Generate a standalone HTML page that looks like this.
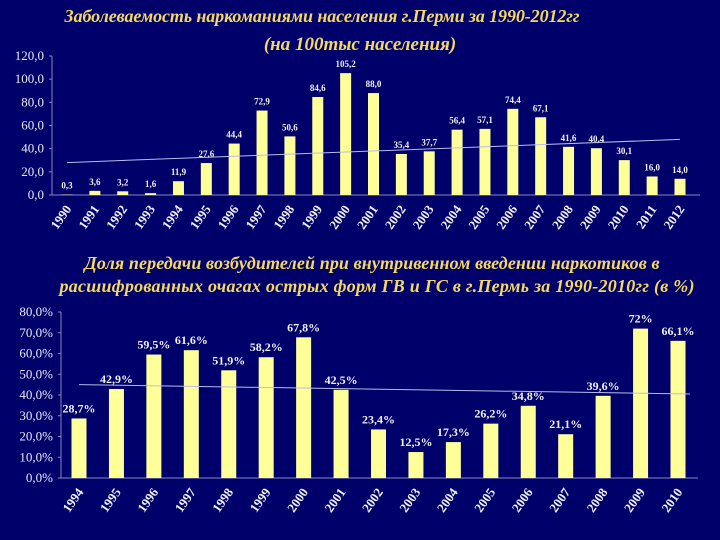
<!DOCTYPE html>
<html><head><meta charset="utf-8"><style>
body{margin:0;background:#000066;}
svg{display:block;}
.t{font-family:"Liberation Serif",serif;font-style:italic;font-weight:bold;fill:#f5d860;font-size:18px;}
.ax{font-family:"Liberation Serif",serif;fill:#e8e8f0;font-size:13px;}
.v{font-family:"Liberation Serif",serif;fill:#f0f0f0;font-size:9px;font-weight:bold;}
.v2{font-family:"Liberation Serif",serif;fill:#f0f0f0;font-size:12px;font-weight:bold;}
.xl{font-family:"Liberation Serif",serif;fill:#f0f0f0;font-size:13px;font-weight:bold;}
</style></head><body>
<svg id="s" width="720" height="540">
<rect width="720" height="540" fill="#00006a"/>
<text class="t" x="322" y="22" text-anchor="middle" textLength="515">Заболеваемость наркоманиями населения г.Перми за 1990-2012гг</text>
<text class="t" x="360" y="50" text-anchor="middle" style="font-size:19px">(на 100тыс населения)</text>
<text class="t" x="372" y="269" text-anchor="middle" textLength="575">Доля передачи возбудителей при внутривенном введении наркотиков в</text>
<text class="t" x="377" y="292" text-anchor="middle" textLength="635">расшифрованных очагах  острых форм ГВ и ГС в г.Пермь за 1990-2010гг (в %)</text>
<g id="c1"></g>
<g id="c2"></g>
</svg>
<script>
const cats1=["1990","1991","1992","1993","1994","1995","1996","1997","1998","1999","2000","2001","2002","2003","2004","2005","2006","2007","2008","2009","2010","2011","2012"];
const vals1=[0.3,3.6,3.2,1.6,11.9,27.6,44.4,72.9,50.6,84.6,105.2,88.0,35.4,37.7,56.4,57.1,74.4,67.1,41.6,40.4,30.1,16.0,14.0];
const labels1=["0,3","3,6","3,2","1,6","11,9","27,6","44,4","72,9","50,6","84,6","105,2","88,0","35,4","37,7","56,4","57,1","74,4","67,1","41,6","40,4","30,1","16,0","14,0"];
const ticks1=[0,20,40,60,80,100,120];
const trend1=[28,48];
const cats2=["1994","1995","1996","1997","1998","1999","2000","2001","2002","2003","2004","2005","2006","2007","2008","2009","2010"];
const vals2=[28.7,42.9,59.5,61.6,51.9,58.2,67.8,42.5,23.4,12.5,17.3,26.2,34.8,21.1,39.6,72,66.1];
const labels2=["28,7%","42,9%","59,5%","61,6%","51,9%","58,2%","67,8%","42,5%","23,4%","12,5%","17,3%","26,2%","34,8%","21,1%","39,6%","72%","66,1%"];
const ticks2=[0,10,20,30,40,50,60,70,80];
const trend2=[45,40.5];
const NS="http://www.w3.org/2000/svg";
function mk(p,t,a,txt){const e=document.createElementNS(NS,t);for(const k in a)e.setAttribute(k,a[k]);if(txt!=null)e.textContent=txt;p.appendChild(e);return e;}
function chart(g,cats,vals,labels,ticks,trend,o){
 const y=v=>o.y0-(v-o.min)/(o.max-o.min)*(o.y0-o.y1);
 const x=i=>o.x0+i*(o.x1-o.x0)/(cats.length-1);
 let e=mk(g,"line",{x1:o.ax,y1:o.y1,x2:o.ax,y2:o.y0,stroke:"#8888bb","stroke-width":1});
 
 
 e=mk(g,"line",{x1:o.ax,y1:o.y0,x2:o.x1+20,y2:o.y0,stroke:"#8888bb","stroke-width":1});
 
 
 ticks.forEach(t=>{
  e=mk(g,"text",{class:"ax",x:o.ax-8,y:y(t)+4,"text-anchor":"end"},o.fmt(t));
  
  
  mk(g,"line",{x1:o.ax-3,y1:y(t),x2:o.ax,y2:y(t),stroke:"#8888bb"});
 });
 cats.forEach((c,i)=>{
  const b=mk(g,"rect",{x:x(i)-o.bw/2,y:y(vals[i]),width:o.bw,height:y(0)-y(vals[i]),fill:"#ffff99"});
  
  
  const l=mk(g,"text",{class:o.vc,x:x(i),y:y(vals[i])-6,"text-anchor":"middle"},labels[i]);
  
  
  const xx=x(i)+5,yy=o.y0+14;
  const t=mk(g,"text",{class:"xl",x:xx,y:yy,"text-anchor":"end",transform:`rotate(-55 ${xx} ${yy})`},c);
  
  
 });
 const n=cats.length-1;
 e=mk(g,"line",{x1:x(0),y1:y(trend[0]),x2:x(n)+o.tx,y2:y(trend[1]),stroke:"#b8bce8","stroke-width":1});
 
 
}
chart(document.getElementById("c1"),cats1,vals1,labels1,ticks1,trend1,{min:0,max:120,y0:195,y1:56,x0:67,x1:680,ax:52,bw:11,vc:"v",tx:0,fmt:t=>t.toFixed(1).replace(".",",")});
chart(document.getElementById("c2"),cats2,vals2,labels2,ticks2,trend2,{min:0,max:80,y0:478,y1:312,x0:79,x1:678,ax:61,bw:15,vc:"v2",tx:12,fmt:t=>t.toFixed(1).replace(".",",")+"%"});
</script>
</body></html>
